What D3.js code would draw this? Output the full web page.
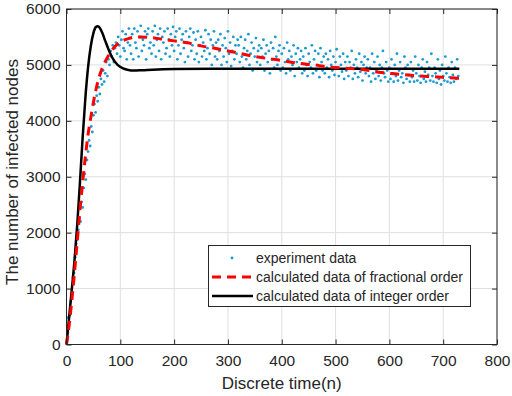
<!DOCTYPE html>
<html>
<head>
<meta charset="utf-8">
<script src="https://cdn.jsdelivr.net/npm/d3@7"></script>
<style>
  body { margin: 0; background: #fff; }
  svg { display: block; font-family: "Liberation Sans", Arial, sans-serif; }
</style>
</head>
<body>
<svg id="chart" width="512" height="396"></svg>
<script>
// experiment data, one value every 2 steps starting at n = 0
const expValues = [
  40, 480, 280, 520, 760, 820, 1200, 1280, 1560, 1800, 1880, 2050, 2250, 2200, 2550, 2450, 2800, 3050, 2950, 3300,
  3450, 3650, 3550, 3900, 3800, 4100, 4300, 4150, 4450, 4350, 4600, 4480, 4750, 4650, 4900, 4700, 4850, 5050, 4800, 5100,
  5000, 5250, 5150, 5350, 5050, 5300, 5400, 5200, 5500, 5350, 5150, 5450, 5600, 5300, 5250, 5550, 5100, 5400, 5650, 5350,
  5200, 5550, 5100, 5650, 5400, 5300, 5600, 5150, 5500, 5700, 5250, 5450, 5350, 5600, 5100, 5550, 5650, 5300, 5400, 5200,
  5600, 5350, 5700, 5150, 5450, 5550, 5250, 5650, 5100, 5500, 5400, 5600, 5200, 5300, 5650, 5450, 5150, 5550, 5350, 5680,
  5250, 5500, 5600, 5100, 5350, 5650, 5200, 5450, 5550, 5300, 5050, 5600, 5400, 5150, 5500, 5650, 5250, 5350, 5580, 5100,
  5450, 5200, 5600, 5050, 5350, 5500, 5150, 5400, 5250, 5620, 5100, 5300, 5550, 5200, 5450, 5000, 5350, 5600, 5150, 5400,
  5100, 5450, 5250, 5550, 5000, 5350, 5150, 5480, 5300, 5050, 5600, 5200, 5400, 4980, 5250, 5500, 5100, 5350, 5200, 5450,
  5350, 5050, 5500, 5150, 4950, 5300, 5450, 5100, 5250, 5550, 5000, 5200, 5400, 4900, 5300, 5150, 5480, 5050, 5250, 5350,
  5000, 5300, 5150, 5450, 4900, 5200, 5350, 5050, 5250, 4850, 5400, 5100, 5300, 4950, 5500, 5150, 5000, 5250, 5350, 4900,
  5200, 4950, 5300, 5050, 4850, 5400, 5100, 5250, 4900, 5150, 5000, 5350, 4800, 5200, 5050, 5300, 4950, 5100, 5250, 4850,
  5150, 4900, 5300, 5000, 4800, 5200, 5050, 4950, 5350, 4850, 5100, 5250, 4900, 5000, 5200, 4780, 5300, 5050, 4900, 5150,
  4850, 5200, 4950, 5100, 4780, 5250, 5000, 4900, 5150, 4820, 5050, 5280, 4950, 4800, 5150, 5000, 4880, 5200, 4750, 5050,
  4900, 5150, 4800, 5050, 4950, 5250, 4750, 5000, 4850, 5100, 4950, 4780, 5200, 4880, 5050, 4720, 5000, 5150, 4850, 4950,
  5100, 4800, 4950, 4700, 5200, 4850, 5050, 4750, 4900, 5150, 4800, 5000, 4720, 4950, 5250, 4850, 4780, 5050, 4900, 4700,
  4950, 4750, 5100, 4850, 4700, 5000, 4800, 5200, 4720, 4900, 5050, 4780, 4850, 4680, 5150, 4950, 4750, 5000, 4820, 4700,
  5050, 4780, 4900, 4700, 5150, 4850, 4720, 5000, 4800, 4680, 4950, 5100, 4750, 4880, 4700, 5050, 4820, 4950, 4720, 5200,
  4800, 4700, 4950, 4850, 4680, 5100, 4750, 4900, 4650, 5000, 4800, 4720, 5150, 4850, 4700, 4950, 4780, 4680, 5050, 4820,
  4700, 4950, 4750, 5100, 4800
];
const expStep = 2;

// fractional order model
const fracN = [0, 5, 10, 15, 20, 25, 30, 35, 40, 45, 50, 55, 60, 70, 80, 90, 100, 115, 130, 150, 175, 200, 225, 250,
  280, 310, 340, 370, 400, 430, 460, 490, 520, 550, 580, 610, 640, 670, 700, 730];
const fracValues = [0, 350, 800, 1300, 1850, 2400, 2900, 3350, 3750, 4050, 4330, 4570, 4760, 5020, 5200, 5330, 5410, 5470,
  5500, 5495, 5465, 5430, 5395, 5340, 5290, 5230, 5170, 5120, 5080, 5030, 5000, 4960, 4940, 4920, 4870, 4840, 4815, 4795,
  4778, 4762];

// integer order model
const intN = [0, 5, 10, 15, 20, 25, 30, 35, 40, 45, 50, 55, 58, 62, 67, 72, 78, 85, 95, 105, 115, 125, 140, 160, 200, 300,
  450, 600, 730];
const intValues = [0, 500, 1000, 1520, 2150, 2900, 3700, 4400, 4950, 5330, 5570, 5680, 5690, 5660, 5560, 5430, 5280, 5130,
  5000, 4940, 4910, 4900, 4905, 4915, 4925, 4930, 4930, 4930, 4930];

const xTicks = [0, 100, 200, 300, 400, 500, 600, 700, 800];
const yTicks = [0, 1000, 2000, 3000, 4000, 5000, 6000];
const legendLabels = ["experiment data", "calculated data of fractional order", "calculated data of integer order"];

const svg = d3.select("#chart");
const margin = {top: 9, right: 15, bottom: 51.5, left: 66.5};
const W = 512, H = 396;
const x = d3.scaleLinear().domain([0, 800]).range([margin.left, W - margin.right]);
const y = d3.scaleLinear().domain([0, 6000]).range([H - margin.bottom, margin.top]);
const axisColor = "#262626";
const dotColor = "#1c9bd3";

svg.append("rect").attr("width", W).attr("height", H).attr("fill", "#fff");

// grid
svg.append("g").selectAll("line").data(xTicks).join("line")
  .attr("x1", d => x(d)).attr("x2", d => x(d))
  .attr("y1", y(0)).attr("y2", y(6000))
  .attr("stroke", "#dfdfdf").attr("stroke-width", 1);
svg.append("g").selectAll("line").data(yTicks).join("line")
  .attr("x1", x(0)).attr("x2", x(800))
  .attr("y1", d => y(d)).attr("y2", d => y(d))
  .attr("stroke", "#dfdfdf").attr("stroke-width", 1);

// experiment dots
const plot = svg.append("g");
plot.selectAll("circle").data(expValues).join("circle")
  .attr("cx", (d, i) => x(i * expStep))
  .attr("cy", d => y(d))
  .attr("r", 1.4)
  .attr("fill", dotColor);

// model lines
const fracLine = d3.line()
  .x((d, i) => x(fracN[i]))
  .y(d => y(d))
  .curve(d3.curveMonotoneX);
const intLine = d3.line()
  .x((d, i) => x(intN[i]))
  .y(d => y(d))
  .curve(d3.curveMonotoneX);

plot.append("path")
  .attr("d", intLine(intValues))
  .attr("fill", "none").attr("stroke", "#000").attr("stroke-width", 2.5);
plot.append("path")
  .attr("d", fracLine(fracValues))
  .attr("fill", "none").attr("stroke", "#ff0000").attr("stroke-width", 3)
  .attr("stroke-dasharray", "9,6");

// axes, ticks point inwards on all four sides
const xAxis = svg.append("g").attr("transform", `translate(0,${y(0)})`)
  .call(d3.axisBottom(x).tickValues(xTicks).tickSize(-5).tickPadding(10).tickFormat(d3.format("d")));
const xAxisTop = svg.append("g").attr("transform", `translate(0,${y(6000)})`)
  .call(d3.axisTop(x).tickValues(xTicks).tickSize(-5).tickFormat(""));
const yAxis = svg.append("g").attr("transform", `translate(${x(0)},0)`)
  .call(d3.axisLeft(y).tickValues(yTicks).tickSize(-5).tickPadding(6).tickFormat(d3.format("d")));
const yAxisRight = svg.append("g").attr("transform", `translate(${x(800)},0)`)
  .call(d3.axisRight(y).tickValues(yTicks).tickSize(-5).tickFormat(""));

for (let g of [xAxis, xAxisTop, yAxis, yAxisRight]) {
  g.select(".domain").remove();
  g.selectAll("line").attr("stroke", axisColor);
  g.selectAll("text").attr("fill", axisColor).style("font-size", "15.5px")
    .style("font-family", "'Liberation Sans', Arial, sans-serif");
}
svg.append("rect")
  .attr("x", x(0)).attr("y", y(6000))
  .attr("width", x(800) - x(0)).attr("height", y(0) - y(6000))
  .attr("fill", "none").attr("stroke", axisColor).attr("stroke-width", 1);

// axis titles
svg.append("text")
  .attr("x", (x(0) + x(800)) / 2).attr("y", 389)
  .attr("text-anchor", "middle").attr("fill", axisColor)
  .style("font-size", "17px").text("Discrete time(n)");
svg.append("text")
  .attr("transform", "translate(18,172) rotate(-90)")
  .attr("text-anchor", "middle").attr("fill", axisColor)
  .style("font-size", "17px").text("The number of infected nodes");

// legend
const legend = svg.append("g");
legend.append("rect")
  .attr("x", 208.5).attr("y", 245.5).attr("width", 262).attr("height", 61)
  .attr("fill", "#fff").attr("stroke", axisColor).attr("stroke-width", 1);
const rowY = [258, 277, 296];
legend.append("circle").attr("cx", 232).attr("cy", rowY[0]).attr("r", 1.4).attr("fill", dotColor);
legend.append("line")
  .attr("x1", 212).attr("x2", 253).attr("y1", rowY[1]).attr("y2", rowY[1])
  .attr("stroke", "#ff0000").attr("stroke-width", 3).attr("stroke-dasharray", "9,6");
legend.append("line")
  .attr("x1", 212).attr("x2", 253).attr("y1", rowY[2]).attr("y2", rowY[2])
  .attr("stroke", "#000").attr("stroke-width", 2.5);
legend.selectAll("text.lab").data(legendLabels).join("text")
  .attr("class", "lab")
  .attr("x", 256).attr("y", (d, i) => rowY[i] + 5)
  .attr("fill", axisColor).style("font-size", "14px")
  .text(d => d);
</script>
</body>
</html>
